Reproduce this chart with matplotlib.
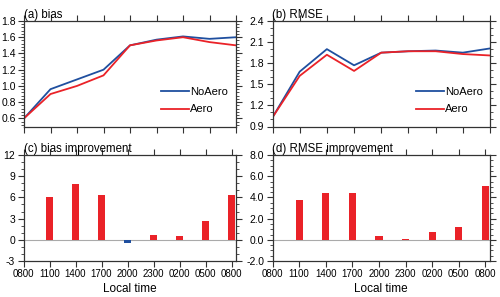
import matplotlib
matplotlib.use("Agg")
import matplotlib.pyplot as plt
from matplotlib.ticker import MultipleLocator, FormatStrFormatter

plt.rcParams['font.family'] = ['Liberation Sans', 'DejaVu Sans']

times = ["0800", "1100", "1400", "1700", "2000", "2300", "0200", "0500", "0800"]
bias_noaero = [0.6, 0.96, 1.08, 1.2, 1.5, 1.57, 1.61, 1.58, 1.6]
bias_aero = [0.6, 0.9, 1.0, 1.13, 1.5, 1.56, 1.6, 1.54, 1.5]
rmse_noaero = [1.03, 1.68, 2.0, 1.77, 1.95, 1.97, 1.98, 1.95, 2.01]
rmse_aero = [1.03, 1.62, 1.92, 1.69, 1.95, 1.97, 1.97, 1.93, 1.91]
bias_impr = [6.1, 7.9, 6.4, -0.5, 0.7, 0.6, 2.7, 6.4]
rmse_impr = [3.8, 4.4, 4.4, 0.4, 0.1, 0.7, 1.2, 5.1]

BLUE = "#1f4f9f"
RED = "#ea2228"
W, H = 500, 297
fig = plt.figure(figsize=(5.0, 2.97), dpi=100)

def ax_at(l, t, r, b):
    return fig.add_axes([l / W, 1 - b / H, (r - l) / W, (b - t) / H])

axa = ax_at(24, 21, 236, 126.5)
axb = ax_at(272.5, 21, 490, 126.5)
axc = ax_at(23.5, 155, 236, 261)
axd = ax_at(272.5, 155, 490, 261)

x = list(range(len(times)))

def style(ax, ylim, major, minor, fmt, bottom_labels):
    ax.set_ylim(*ylim)
    ax.yaxis.set_major_locator(MultipleLocator(major))
    ax.yaxis.set_minor_locator(MultipleLocator(minor))
    ax.yaxis.set_major_formatter(FormatStrFormatter(fmt))
    ax.set_xticks(x)
    if bottom_labels:
        ax.set_xticklabels(times)
        ax.set_xlabel("Local time", fontsize=8.5, labelpad=3)
    else:
        ax.set_xticklabels([])
    ax.tick_params(axis='both', which='major', direction='out', length=4.5, width=0.8,
                   labelsize=7.5, top=True, right=True, pad=1.5, color='#333333')
    ax.tick_params(axis='x', which='major', labelsize=7)
    ax.tick_params(axis='y', which='minor', direction='out', length=2, width=0.6,
                   left=True, right=True, color='#333333')
    ax.tick_params(axis='x', which='minor', bottom=False, top=False)
    for s in ax.spines.values():
        s.set_linewidth(0.9)
        s.set_color('#333333')

for ax, no, ae, ylim, maj, mnr, fmt, title, lx in [
        (axa, bias_noaero, bias_aero, (0.5, 1.8), 0.2, 0.04, '%.1f', '(a) bias', 0.625),
        (axb, rmse_noaero, rmse_aero, (0.9, 2.4), 0.3, 0.1, '%.1f', '(b) RMSE', 0.64)]:
    ax.plot(x, no, color=BLUE, lw=1.3, label='NoAero')
    ax.plot(x, ae, color=RED, lw=1.3, label='Aero')
    ax.set_xlim(0, 8)
    style(ax, ylim, maj, mnr, fmt, False)
    ax.set_title(title, loc='left', fontsize=8.3, pad=2.5)
    ax.legend(loc='upper left', bbox_to_anchor=(lx, 0.42), frameon=False, fontsize=8,
              handlelength=2.5, handletextpad=0.1, labelspacing=0.7, borderaxespad=0)

for ax, vals, ylim, maj, mnr, fmt, title in [
        (axc, bias_impr, (-3, 12), 3, 1, '%d', '(c) bias improvement'),
        (axd, rmse_impr, (-2, 8), 2, 0.5, '%.1f', '(d) RMSE improvement')]:
    ax.axhline(0, color='#aaaaaa', lw=0.8, zorder=1)
    cols = [RED if v >= 0 else BLUE for v in vals]
    ax.bar(x[1:], vals, width=0.27, color=cols, zorder=2)
    ax.set_xlim(0, 8.17)
    style(ax, ylim, maj, mnr, fmt, True)
    ax.set_title(title, loc='left', fontsize=8.3, pad=2.5)

fig.savefig("out.png", dpi=100)
